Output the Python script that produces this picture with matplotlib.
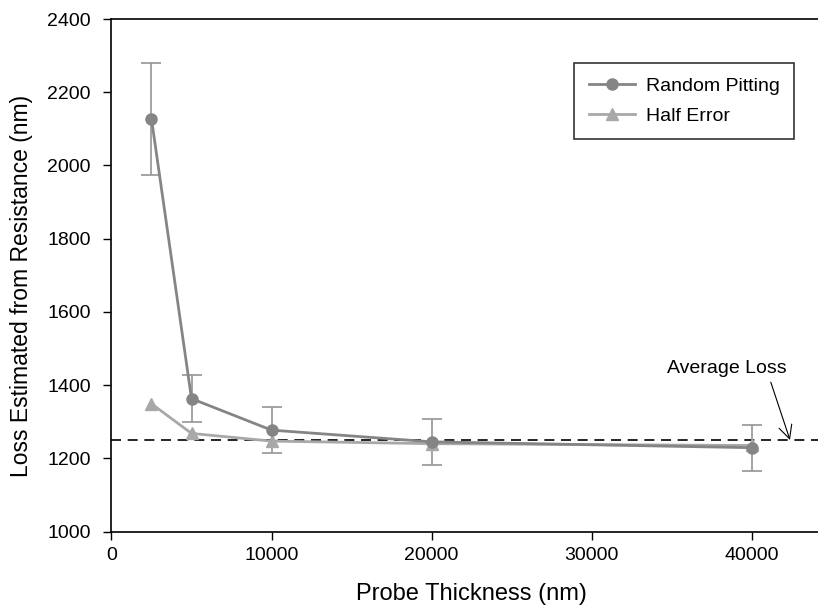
import matplotlib
matplotlib.use("Agg")
import matplotlib.pyplot as plt

plt.rcParams['font.family'] = ['Liberation Sans', 'DejaVu Sans']

# data
thickness = [2500, 5000, 10000, 20000, 40000]
random_pitting = [2127, 1363, 1277, 1245, 1229]
random_err = [152, 65, 63, 62, 63]
half_error = [1349, 1268, 1247, 1240, 1235]
average_loss = 1250

fig = plt.figure(figsize=(8.18, 6.06), dpi=100)
ax = fig.add_axes([0.1363, 0.1229, 0.8637, 0.8457])

ax.errorbar(thickness, random_pitting, yerr=random_err, fmt='none',
            ecolor='#959595', elinewidth=1.2, capsize=7, capthick=1.2, zorder=2)
ax.plot(thickness, half_error, color='#a8a8a8', lw=2, marker='^', ms=8,
        label='Half Error', zorder=3)
ax.plot(thickness, random_pitting, color='#858585', lw=2, marker='o', ms=8,
        label='Random Pitting', zorder=4)
ax.axhline(average_loss, color='black', lw=1.2, ls=(0, (6, 4)), zorder=1)

# label and its arrow
ax.text(38450, 1444, 'Average Loss', ha='center', va='center', fontsize=14)
ax.annotate('', xy=(42400, average_loss), xytext=(41200, 1408),
            arrowprops=dict(arrowstyle='->', color='black', lw=0.8,
                            shrinkA=0, shrinkB=0, mutation_scale=24))

ax.set_xlim(0, 44150)
ax.set_ylim(1000, 2400)
ax.set_xticks([0, 10000, 20000, 30000, 40000])
ax.set_yticks(range(1000, 2401, 200))
ax.tick_params(direction='out', length=6, width=1, labelsize=14)
ax.tick_params(axis='y', pad=9)
ax.tick_params(axis='x', pad=5)
ax.spines['right'].set_visible(False)
for s in ['left', 'top', 'bottom']:
    ax.spines[s].set_linewidth(1.2)

ax.set_xlabel('Probe Thickness (nm)', fontsize=17, labelpad=14)
ax.xaxis.label.set_x(0.51)
ax.set_ylabel('Loss Estimated from Resistance (nm)', fontsize=16.5, labelpad=10)
ax.yaxis.label.set_y(0.479)

h, l = ax.get_legend_handles_labels()
leg = ax.legend(h[::-1], l[::-1], loc='upper left', bbox_to_anchor=(0.6546, 0.9141),
                fontsize=14, frameon=True, fancybox=False, edgecolor='black',
                handlelength=2.4, handletextpad=0.55, borderpad=0.75,
                borderaxespad=0, labelspacing=0.6)
leg.get_frame().set_linewidth(1.2)

fig.savefig('out.png', dpi=100)
